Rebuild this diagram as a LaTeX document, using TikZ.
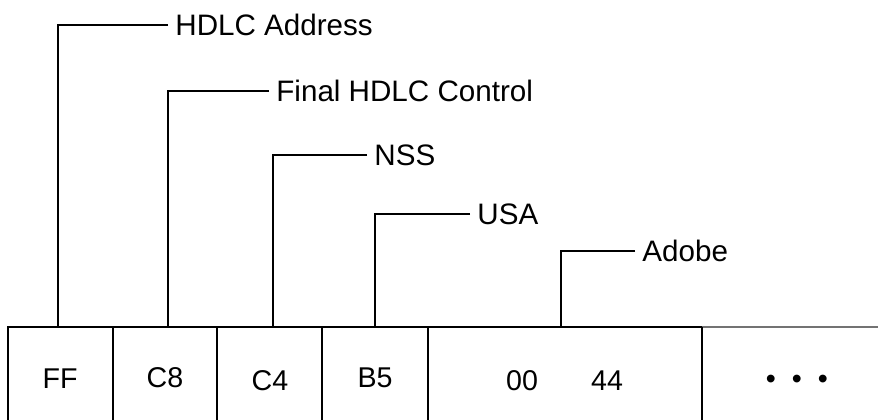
\documentclass[tikz,border=0pt]{standalone}
\usepackage{fontspec}
\setmainfont{Liberation Sans}
\usetikzlibrary{positioning,calc}
\tikzset{
  feld/.style={inner sep=0pt, font=\fontsize{14.3}{16}\selectfont},
  marke/.style={anchor=west, inner sep=3.5pt, font=\fontsize{14.8}{17}\selectfont},
  linie/.style={line width=1pt, black},
  lead/.style={line width=1pt, black},
}
\begin{document}
\begin{tikzpicture}[x=0.5pt,y=0.5pt]
  \useasboundingbox (0,0) rectangle (878,419);
  % Rahmen der Bytefelder
  \draw[linie] (8,-4) -- (8,92) -- (702,92);
  \draw[linie, black!55] (702,92) -- (880,92);
  \foreach \xx in {113,217,322,428,702}
    \draw[linie] (\xx,-4) -- (\xx,92);
  % Inhalte
  \node[feld] (cFF) at (60,40) {FF};
  \node[feld] (cC8) at (165,41) {C8};
  \node[feld] (cC4) at (270,38) {C4};
  \node[feld] (cB5) at (375,41) {B5};
  \node[feld] (cNull) at (522,38) {00};
  \node[feld] (cVier) at (607,38) {44};
  \node[feld] (cPkt) at (797,37) {\textbullet\hspace{8pt}\textbullet\hspace{8pt}\textbullet};
  % Abgriffspunkte
  \coordinate (pFF) at (58,92);
  \coordinate (pC8) at (168,92);
  \coordinate (pC4) at (273,92);
  \coordinate (pB5) at (375,92);
  \coordinate (pNull) at (561,92);
  % Beschriftungen
  \node[marke] (tAddr) at (168,394) {HDLC Address};
  \node[marke] (tCtrl) at (269,328) {Final HDLC Control};
  \node[marke] (tNss) at (367,264) {NSS};
  \node[marke] (tUsa) at (470,205) {USA};
  \node[marke] (tAdobe) at (635,168) {Adobe};
  \draw[lead] (tAddr.west) -| (pFF);
  \draw[lead] (tCtrl.west) -| (pC8);
  \draw[lead] (tNss.west) -| (pC4);
  \draw[lead] (tUsa.west) -| (pB5);
  \draw[lead] (tAdobe.west) -| (pNull);
\end{tikzpicture}
\end{document}
